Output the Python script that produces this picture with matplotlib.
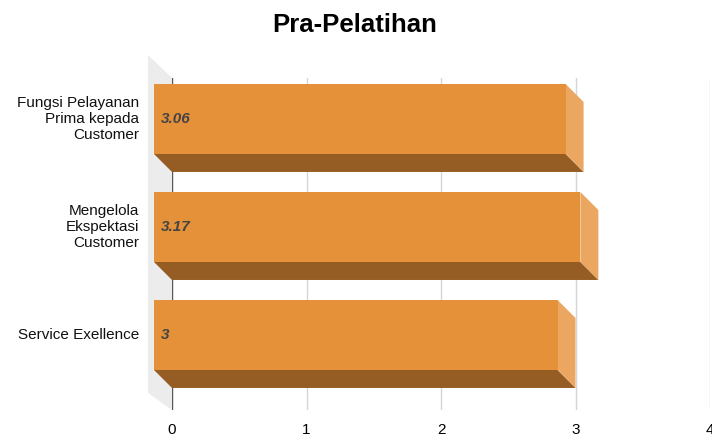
import matplotlib

matplotlib.use("Agg")
import matplotlib.pyplot as plt
from matplotlib.patches import Polygon

plt.rcParams["font.family"] = ["Liberation Sans", "DejaVu Sans"]

# data
categories = ["Fungsi Pelayanan\nPrima kepada\nCustomer",
              "Mengelola\nEkspektasi\nCustomer",
              "Service Exellence"]
values = [3.06, 3.17, 3.0]
value_labels = ["3.06", "3.17", "3"]
x_ticks = [0, 1, 2, 3, 4]

# colours
FRONT = "#e5913a"
BOTTOM = "#955c24"
SIDE = "#eba661"
WALL = "#ececec"

# figure geometry (pixels)
W, H = 712, 437
AX_L, AX_R, AX_T, AX_B = 172, 710, 78, 410
Y_TOP, Y_BOT = -0.546, 2.528
DEPTH_PX = 18      # bar 3d offset
WALL_PX = 24       # left wall depth
BAR_HALF_PX = 35

fig = plt.figure(figsize=(W / 100, H / 100), dpi=100)
ax = fig.add_axes([AX_L / W, (H - AX_B) / H, (AX_R - AX_L) / W, (AX_B - AX_T) / H])
ax.set_xlim(0, 4)
ax.set_ylim(Y_BOT, Y_TOP)

ux = 4 / (AX_R - AX_L)            # data x per pixel
uy = (Y_BOT - Y_TOP) / (AX_B - AX_T)  # data y per pixel
dx, dy = DEPTH_PX * ux, DEPTH_PX * uy
h = BAR_HALF_PX * uy

# left wall
wx, wy = WALL_PX * ux, 23 * uy
ax.add_patch(Polygon([(-wx, Y_TOP - wy), (0, Y_TOP), (0, Y_BOT), (-wx, Y_BOT - 17 * uy)],
                     closed=True, facecolor=WALL, edgecolor="none", clip_on=False, zorder=0))

# grid
for t in x_ticks:
    ax.axvline(t, color="#555555" if t == 0 else "#d6d6d6", lw=1.0, zorder=1)

for i, v in enumerate(values):
    c = i
    # bottom face
    ax.add_patch(Polygon([(-dx, c + h - dy), (v - dx, c + h - dy), (v, c + h), (0, c + h)],
                         closed=True, facecolor=BOTTOM, edgecolor="none", clip_on=False, zorder=2))
    # side face
    ax.add_patch(Polygon([(v - dx, c - h - dy), (v, c - h), (v, c + h), (v - dx, c + h - dy)],
                         closed=True, facecolor=SIDE, edgecolor="none", clip_on=False, zorder=2))
    # front face
    ax.add_patch(Polygon([(-dx, c - h - dy), (v - dx, c - h - dy), (v - dx, c + h - dy), (-dx, c + h - dy)],
                         closed=True, facecolor=FRONT, edgecolor="none", clip_on=False, zorder=3))
    ax.text(-dx + 7 * ux, c - dy, value_labels[i], ha="left", va="center",
            fontsize=11, fontweight="bold", fontstyle="italic", color="#444444", zorder=4)
    ax.text(-dx - 15 * ux, c - dy, categories[i], ha="right", va="center",
            fontsize=11, color="#111111", linespacing=1.2)

ax.set_yticks([])
ax.set_xticks(x_ticks)
ax.set_xticklabels([str(t) for t in x_ticks], fontsize=11)
ax.tick_params(axis="x", length=0, pad=9)
for s in ax.spines.values():
    s.set_visible(False)

fig.text(355 / W, 1 - 25 / H, "Pra-Pelatihan", ha="center", va="center",
         fontsize=18.5, fontweight="bold")

fig.savefig("out.png", dpi=100)
